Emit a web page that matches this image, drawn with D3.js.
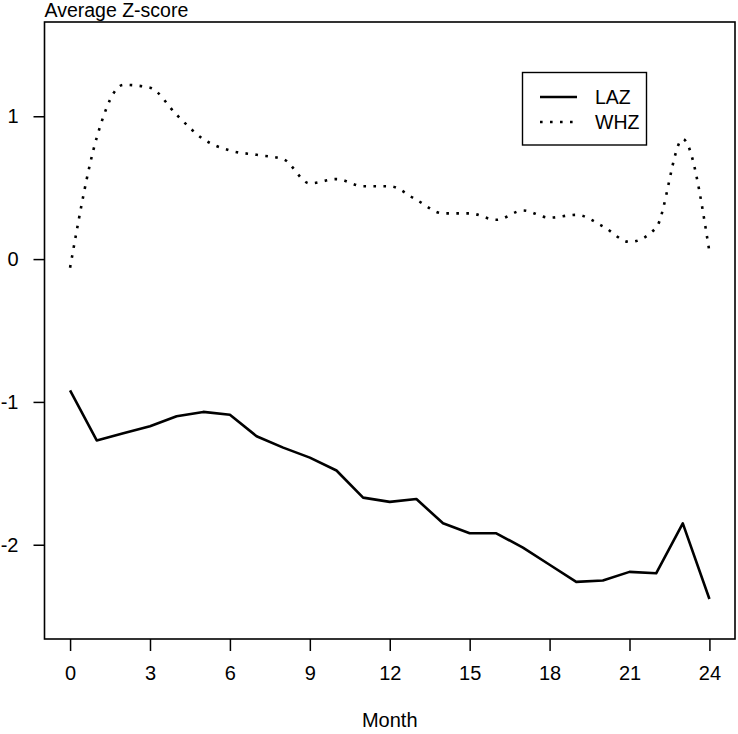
<!DOCTYPE html>
<html>
<head>
<meta charset="utf-8">
<script src="https://cdn.jsdelivr.net/npm/d3@7"></script>
<style>
  html, body { margin: 0; padding: 0; background: #fff; }
  svg { display: block; }
  text { font-family: "Liberation Sans", Arial, sans-serif; fill: #000; }
</style>
</head>
<body>
<svg id="chart" width="738" height="734"></svg>
<script>
const months = d3.range(0, 25);
const laz = [-0.92, -1.27, -1.22, -1.17, -1.10, -1.07, -1.09, -1.24, -1.32, -1.39, -1.48, -1.67, -1.70, -1.68, -1.85, -1.92, -1.92, -2.02, -2.14, -2.26, -2.25, -2.19, -2.20, -1.85, -2.38];
const whz = [-0.06, 0.85, 1.22, 1.20, 1.01, 0.84, 0.76, 0.73, 0.70, 0.53, 0.56, 0.51, 0.51, 0.415, 0.32, 0.32, 0.275, 0.34, 0.29, 0.31, 0.23, 0.12, 0.22, 0.84, 0.05];
const xTicks = [0, 3, 6, 9, 12, 15, 18, 21, 24];
const yTicks = [-2, -1, 0, 1];
const seriesNames = ["LAZ", "WHZ"];
const chartTitle = "Average Z-score";
const xTitle = "Month";

(function () {
const svg = d3.select("#chart");
const mLeft = 44.5, mRight = 735, mTop = 22, mBottom = 639;

const x = d3.scaleLinear().domain([-0.96, 24.96]).range([mLeft, mRight]);
const y = d3.scaleLinear().domain([-2.66, 1.66]).range([mBottom, mTop]);

// plot box
svg.append("rect")
  .attr("x", mLeft).attr("y", mTop)
  .attr("width", mRight - mLeft).attr("height", mBottom - mTop)
  .attr("fill", "none").attr("stroke", "#000").attr("stroke-width", 1.6);

// x axis
const xAxis = svg.append("g").attr("transform", `translate(0,${mBottom})`)
  .call(d3.axisBottom(x).tickValues(xTicks).tickSize(12).tickPadding(15).tickFormat(d3.format("d")));
xAxis.select(".domain").remove();
xAxis.selectAll(".tick line").attr("stroke", "#000").attr("stroke-width", 1.5);
xAxis.selectAll(".tick text").attr("font-size", 20).attr("font-family", "Liberation Sans, Arial, sans-serif");

// y axis
const yAxis = svg.append("g").attr("transform", `translate(${mLeft},0)`)
  .call(d3.axisLeft(y).tickValues(yTicks).tickSize(11).tickPadding(15).tickFormat(d3.format("d")));
yAxis.select(".domain").remove();
yAxis.selectAll(".tick line").attr("stroke", "#000").attr("stroke-width", 1.5);
yAxis.selectAll(".tick text").attr("font-size", 20).attr("font-family", "Liberation Sans, Arial, sans-serif")
  .text(d => d < 0 ? "-" + Math.abs(d) : d);

// titles
svg.append("text").attr("x", mLeft).attr("y", 17).attr("font-size", 19.5).text(chartTitle);
svg.append("text").attr("x", x(12)).attr("y", 727).attr("text-anchor", "middle").attr("font-size", 20).text(xTitle);

// lines
const lineLinear = d3.line().x((d, i) => x(months[i])).y(d => y(d));
const lineSmooth = d3.line().x((d, i) => x(months[i])).y(d => y(d)).curve(d3.curveMonotoneX);

svg.append("path").datum(laz)
  .attr("d", lineLinear)
  .attr("fill", "none").attr("stroke", "#000").attr("stroke-width", 2.6)
  .attr("stroke-linejoin", "round");

svg.append("path").datum(whz)
  .attr("d", lineSmooth)
  .attr("fill", "none").attr("stroke", "#000").attr("stroke-width", 2.6)
  .attr("stroke-dasharray", "2.6,7.4");

// legend
const lg = svg.append("g");
lg.append("rect").attr("x", 522.5).attr("y", 72.5).attr("width", 124).attr("height", 72.5)
  .attr("fill", "#fff").attr("stroke", "#000").attr("stroke-width", 1.4);
const legendY = [97, 122];
const dashes = [null, "2.6,7.4"];
seriesNames.forEach((name, i) => {
  lg.append("line").attr("x1", 540).attr("x2", 577).attr("y1", legendY[i]).attr("y2", legendY[i])
    .attr("stroke", "#000").attr("stroke-width", 2.6).attr("stroke-dasharray", dashes[i]);
  lg.append("text").attr("x", 595).attr("y", legendY[i] + 7).attr("font-size", 19.5).text(name);
});
})();
</script>
</body>
</html>
